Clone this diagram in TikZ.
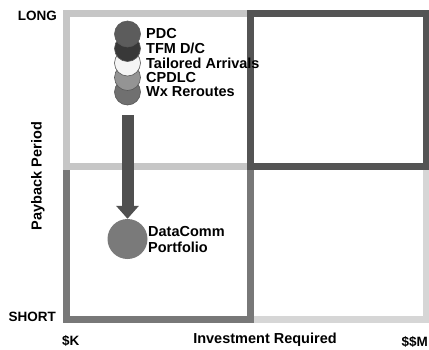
\documentclass[tikz,border=0pt]{standalone}
\usepackage{fontspec}
\setmainfont{Liberation Sans}
\usetikzlibrary{arrows.meta, positioning}
\definecolor{quadTL}{RGB}{198, 198, 198}
\definecolor{quadTR}{RGB}{84, 84, 84}
\definecolor{quadBL}{RGB}{120, 120, 120}
\definecolor{quadBR}{RGB}{214, 214, 214}
\definecolor{arrowGray}{RGB}{80, 80, 80}

\begin{document}
\begin{tikzpicture}[x=1pt, y=-1pt, font=\bfseries\fontsize{14.5}{16}\selectfont,
    quad/.style={line width=7pt},
    dot/.style={circle, minimum size=26pt, inner sep=0pt, draw=gray!70!black, line width=0.6pt},
    lbl/.style={inner sep=0pt, anchor=west},
    endlbl/.style={inner sep=0pt, font=\bfseries\fontsize{13.5}{15}\selectfont}]
  \useasboundingbox (0,0) rectangle (429,349);
  % Quadrants (order matters for the shared edges)
  \draw[quad, quadBR] (250,166) rectangle (426,319.5);
  \draw[quad, quadBL] (66,166) rectangle (250,319.5);
  \draw[quad, quadTL] (66,13) rectangle (250,166);
  \draw[quad, quadTR] (250,13) rectangle (426,166);

  % Stacked initiatives, drawn bottom up
  \foreach \y/\col/\txt [count=\i] in {92/black!56/{Wx Reroutes}, 77.5/black!42/{CPDLC},
      63/gray!8/{Tailored Arrivals}, 48.5/black!78/{TFM D/C}, 34/black!64/{PDC}} {
    \node[dot, fill=\col] (c\i) at (127.5,\y) {};
    \node[lbl] (t\i) at (146,\y) {\txt};
  }

  % Portfolio
  \node[circle, minimum size=40pt, inner sep=0pt, fill=black!52] (dc) at (127.5,239) {};
  \node[lbl, align=left] (dct) at (148,240) {DataComm\\Portfolio};
  \draw[arrowGray, line width=12pt, shorten <=10pt,
    -{Triangle[width=22pt, length=13pt]}] (c1) -- (dc);

  % Axes
  \node[endlbl, anchor=east] (long) at (57,16) {LONG};
  \node[endlbl, anchor=east] (short) at (56,317) {SHORT};
  \node[rotate=90] (ylab) at (38,176) {Payback Period};
  \node[endlbl, anchor=west] (lo) at (62,341) {\$K};
  \node (xlab) at (265,340) {Investment Required};
  \node[endlbl, anchor=east] (hi) at (428,342) {\$\$M};
\end{tikzpicture}
\end{document}
